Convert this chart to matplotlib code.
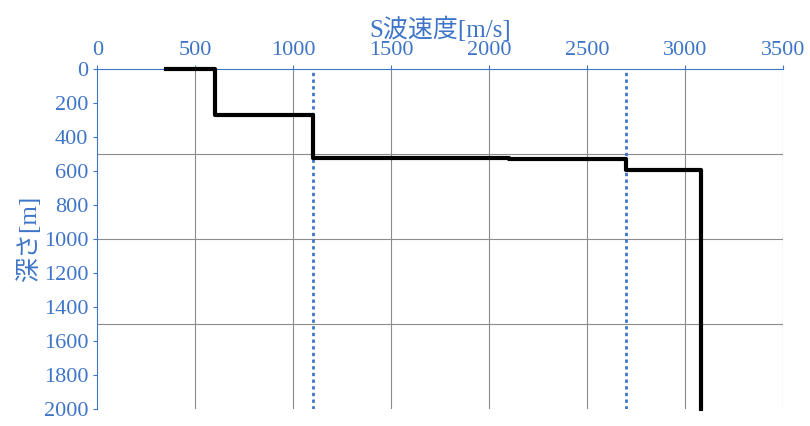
import matplotlib
matplotlib.use('Agg')
import matplotlib.pyplot as plt

plt.rcParams['font.family'] = ['Liberation Serif', 'Noto Sans CJK JP']

# S-wave velocity profile (step): velocity [m/s], depth [m]
vs = [350, 600, 600, 1100, 1100, 1400, 1400, 2100, 2100, 2700, 2700, 3080, 3080]
depth = [0, 0, 270, 270, 519, 519, 522, 522, 530, 530, 590, 590, 2000]
ref_lines = [1100, 2700]

blue = '#3E75C8'

fig = plt.figure(figsize=(8.1, 4.26), dpi=100)
ax = fig.add_axes([0.12, 0.04, 0.847, 0.797])

ax.set_xlim(0, 3500)
ax.set_ylim(2000, 0)
ax.xaxis.tick_top()
ax.xaxis.set_label_position('top')
ax.set_xticks(range(0, 3501, 500))
ax.set_yticks(range(0, 2001, 200))
for x in range(500, 3501, 500):
    ax.axvline(x, color='#8c8c8c', lw=0.8, zorder=0)
for y in (500, 1000, 1500):
    ax.axhline(y, color='#8c8c8c', lw=0.8, zorder=0)

for x in ref_lines:
    ax.axvline(x, color=blue, lw=2, ls=(0, (1.2, 1.2)), zorder=2)
ax.plot(vs, depth, color='black', lw=3, zorder=3, clip_on=False)

for s in ('right', 'bottom'):
    ax.spines[s].set_visible(False)
for s in ('top', 'left'):
    ax.spines[s].set_color(blue)
ax.tick_params(colors=blue, labelsize=16, length=3)
ax.set_xlabel('S波速度[m/s]', color=blue, fontsize=18, labelpad=3)
ax.set_ylabel('深さ[m]', color=blue, fontsize=18, labelpad=2)

fig.savefig('out.png')
